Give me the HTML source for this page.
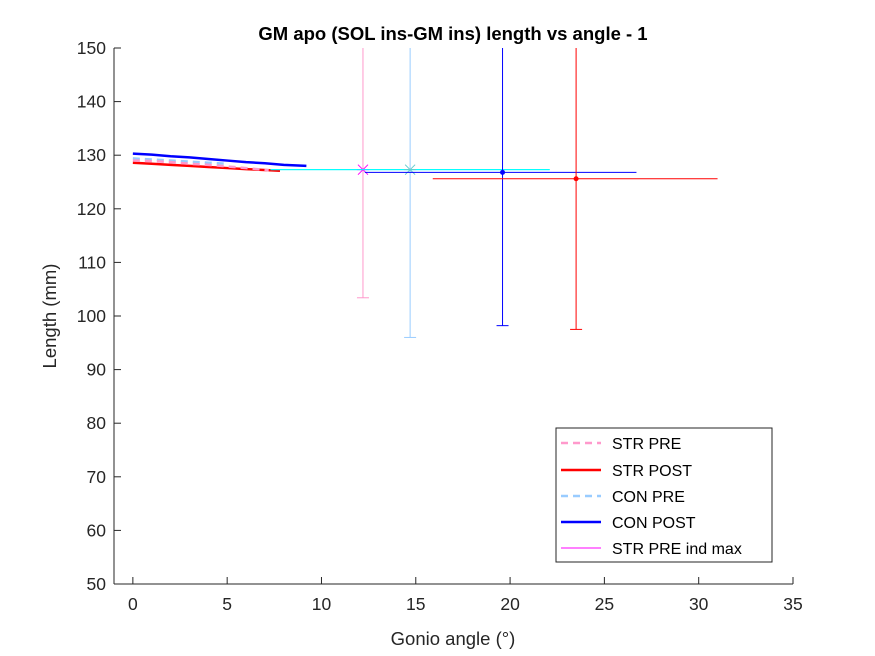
<!DOCTYPE html>
<html><head><meta charset="utf-8"><style>
body{margin:0;background:#fff;}
svg{display:block;font-family:"Liberation Sans",Arial,sans-serif;}
</style></head><body>
<svg id="chart" width="875" height="656" viewBox="0 0 875 656">
<rect width="875" height="656" fill="#fff"/>
<text x="453" y="40" text-anchor="middle" font-size="18.5" font-weight="bold" fill="#000">GM apo (SOL ins-GM ins) length vs angle - 1</text>
<g id="plot"></g>
<g id="axes"></g>
<text x="453" y="645" text-anchor="middle" font-size="18.5" fill="#262626">Gonio angle (°)</text>
<text transform="translate(56,316) rotate(-90)" text-anchor="middle" font-size="18.5" fill="#262626">Length (mm)</text>
<g>
<rect x="556" y="428" width="216" height="134" fill="#fff" stroke="#262626" stroke-width="1"/>
<line x1="561" y1="443" x2="601" y2="443" stroke="#ff99cc" stroke-width="2.5" stroke-dasharray="7,5"/>
<text x="612" y="449" font-size="16" fill="#000">STR PRE</text>
<line x1="561" y1="470" x2="601" y2="470" stroke="#ff0000" stroke-width="2.5"/>
<text x="612" y="476" font-size="16" fill="#000">STR POST</text>
<line x1="561" y1="496" x2="601" y2="496" stroke="#99ccff" stroke-width="2.5" stroke-dasharray="7,5"/>
<text x="612" y="502" font-size="16" fill="#000">CON PRE</text>
<line x1="561" y1="522" x2="601" y2="522" stroke="#0000ff" stroke-width="2.5"/>
<text x="612" y="528" font-size="16" fill="#000">CON POST</text>
<line x1="561" y1="548" x2="601" y2="548" stroke="#ff00ff" stroke-width="1"/>
<text x="612" y="554" font-size="16" fill="#000">STR PRE ind max</text>
</g>
</svg>
<script>
const xTicks=[0,5,10,15,20,25,30,35];
const yTicks=[50,60,70,80,90,100,110,120,130,140,150];
const strPreX=[0,1,2,3,4,5,6,7.2];
const strPreY=[129.0,128.9,128.7,128.4,128.2,127.9,127.6,127.2];
const strPostX=[0,1,2,3,4,5,6,7.8];
const strPostY=[128.6,128.4,128.2,128.0,127.8,127.6,127.4,127.1];
const conPreX=[0,1,2,3,4,5];
const conPreY=[129.4,129.2,129.0,128.8,128.6,128.4];
const conPostX=[0,1,2,3,4,5,6,7,8,9.2];
const conPostY=[130.3,130.1,129.8,129.6,129.3,129.0,128.7,128.5,128.2,128.0];
const groups=['STR PRE','CON PRE','CON POST','STR POST'];
const meanX=[12.2,14.7,19.6,23.5];
const meanY=[127.3,127.3,126.8,125.6];
const xLo=[7.3,7.3,12.3,15.9];
const xHi=[22.1,22.1,26.7,31.0];
const yLo=[103.4,96.0,98.2,97.5];
const yHi=[160,160,160,160];
const hColors=['#00ffff','#00ffff','#0000ff','#ff0000'];
const vColors=['#ff99cc','#99ccff','#0000ff','#ff0000'];

const X0=114,X1=793,Y0=584,Y1=48;
const xs=v=>X0+(v+1)/36*(X1-X0);
const ys=v=>Y0-(v-50)/100*(Y0-Y1);
const NS='http://www.w3.org/2000/svg';
const plot=document.getElementById('plot'),axes=document.getElementById('axes');
function mk(p,tag,at){const e=document.createElementNS(NS,tag);for(const k in at)e.setAttribute(k,at[k]);p.appendChild(e);return e;}
const defs=mk(plot,'defs',{});const cp=mk(defs,'clipPath',{id:'c'});mk(cp,'rect',{x:X0,y:Y1,width:X1-X0,height:Y0-Y1});
const g=mk(plot,'g',{'clip-path':'url(#c)'});
function series(xa,ya,col,dash,name){
  const pts=xa.map((x,i)=>xs(x)+','+ys(ya[i])).join(' ');
  const e=mk(g,'polyline',{points:pts,fill:'none',stroke:col,'stroke-width':2.5});
  if(dash)e.setAttribute('stroke-dasharray','7,5');
  
  
}
series(conPostX,conPostY,'#0000ff',false,'con-post-line');
series(conPreX,conPreY,'#99ccff',true,'con-pre-line');
series(strPostX,strPostY,'#ff0000',false,'str-post-line');
series(strPreX,strPreY,'#ff99cc',true,'str-pre-line');
for(let i=0;i<groups.length;i++){
  const h=mk(g,'line',{x1:xs(xLo[i]),x2:xs(xHi[i]),y1:ys(meanY[i]),y2:ys(meanY[i]),stroke:hColors[i],'stroke-width':1});
  
  
  const v=mk(g,'line',{x1:xs(meanX[i]),x2:xs(meanX[i]),y1:ys(yLo[i]),y2:ys(yHi[i]),stroke:vColors[i],'stroke-width':1});
  
  
  mk(g,'line',{x1:xs(meanX[i])-6,x2:xs(meanX[i])+6,y1:ys(yLo[i]),y2:ys(yLo[i]),stroke:vColors[i],'stroke-width':1});
  const cx=xs(meanX[i]),cy=ys(meanY[i]);
  if(i<2){
    const mc=i==0?'#ff00ff':'#66cccc';
    mk(g,'path',{d:`M${cx-5},${cy-5}L${cx+5},${cy+5}M${cx-5},${cy+5}L${cx+5},${cy-5}M${cx-6},${cy}L${cx+6},${cy}`,stroke:mc,'stroke-width':1,fill:'none'});
  }else{
    const m=mk(g,'circle',{cx:cx,cy:cy,r:2.5,fill:vColors[i]});
    
    
  }
}
mk(axes,'line',{x1:X0,x2:X0,y1:Y1,y2:Y0,stroke:'#262626','stroke-width':1});
mk(axes,'line',{x1:X0,x2:X1,y1:Y0,y2:Y0,stroke:'#262626','stroke-width':1});
xTicks.forEach(t=>{
  mk(axes,'line',{x1:xs(t),x2:xs(t),y1:Y0,y2:Y0-7,stroke:'#262626'});
  const e=mk(axes,'text',{x:xs(t),y:Y0+26,'text-anchor':'middle','font-size':17.5,fill:'#262626'});e.textContent=t;
  
  
});
yTicks.forEach(t=>{
  mk(axes,'line',{x1:X0,x2:X0+7,y1:ys(t),y2:ys(t),stroke:'#262626'});
  const e=mk(axes,'text',{x:X0-8,y:ys(t)+6,'text-anchor':'end','font-size':17.5,fill:'#262626'});e.textContent=t;
  
  
});
</script>
</body></html>
